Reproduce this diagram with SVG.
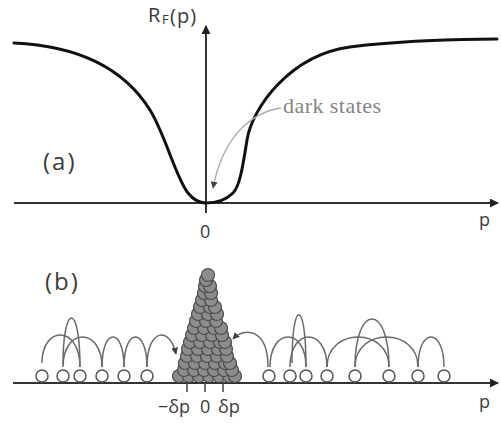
<svg xmlns="http://www.w3.org/2000/svg" width="501" height="423" viewBox="0 0 501 423">
<defs>
<style>
.axis{stroke:#333;stroke-width:2;fill:none}
.curve{stroke:#111;stroke-width:3;fill:none;stroke-linecap:round}
.arc{stroke:#6a6a6a;stroke-width:1.5;fill:none}
.open{fill:#fff;stroke:#555;stroke-width:1.5}
.atom{fill:#8c8c8c;stroke:#4a4a4a;stroke-width:1.2}
.tick{stroke:#444;stroke-width:1.5}
.lbl{font-family:"Open Sans","DejaVu Sans",sans-serif;fill:#3a3a3a}
</style>
<marker id="ah" viewBox="0 0 10 10" refX="9" refY="5" markerWidth="9" markerHeight="9" markerUnits="userSpaceOnUse" orient="auto">
<path d="M0,0 L10,5 L0,10 z" fill="#222"/>
</marker>
<marker id="ahs" viewBox="0 0 10 10" refX="9" refY="5" markerWidth="7" markerHeight="7" markerUnits="userSpaceOnUse" orient="auto">
<path d="M0,0 L10,5 L0,10 z" fill="#444"/>
</marker>
</defs>
<rect width="501" height="423" fill="#fff"/>

<g id="panel-a">
<g id="axes-a">
<line class="axis" x1="14" y1="203" x2="498" y2="203" marker-end="url(#ah)"/>
<line class="axis" x1="206" y1="213" x2="206" y2="26" marker-end="url(#ah)"/>
</g>
<path id="curve" class="curve" d="M14,43 C80,46 125,70 150,110 C165,134 176,178 188,193 C194,200.5 199,203 206,203 C216,203 226,200 233,193 C240,186 243,165 247,140 C252,108 290,55 350,47 C395,41 460,39 497,39"/>
<g id="dark-states">
<path d="M281,108 C255,112 224,132 213,188" fill="none" stroke="#aaa" stroke-width="1.3" marker-end="url(#ahs)"/>
<text x="283" y="113" font-family="'Liberation Serif',serif" font-size="22" fill="#858585" textLength="98">dark states</text>
</g>
<text class="lbl" x="148" y="22" font-size="20">R</text>
<text class="lbl" x="162" y="24" font-size="13">F</text>
<text class="lbl" x="170" y="23" font-size="20" letter-spacing="1">(p)</text>
<text class="lbl" x="43" y="170" font-size="24" letter-spacing="2">(a)</text>
<text class="lbl" x="200" y="238" font-size="18">0</text>
<text class="lbl" x="479" y="226" font-size="18">p</text>
</g>

<g id="panel-b">
<g id="axis-b">
<line class="axis" x1="13" y1="383" x2="498" y2="383" marker-end="url(#ah)"/>
<line class="tick" x1="187" y1="383" x2="187" y2="392"/>
<line class="tick" x1="205" y1="383" x2="205" y2="392"/>
<line class="tick" x1="223" y1="383" x2="223" y2="392"/>
</g>
<g id="connectors">
<path class="arc" d="M42,363 C42,325 80,325 80,367"/>
<path class="arc" d="M63,367 C63,327 102,327 102,367"/>
<path class="arc" d="M63,365 C63,302 80,302 80,367"/>
<path class="arc" d="M102,367 C102,327 124,327 124,367"/>
<path class="arc" d="M124,367 C124,327 147,327 147,367"/>
<path class="arc" d="M147,367 C147,328 170,326 176,354" marker-end="url(#ahs)"/>
<path class="arc" d="M268,367 C268,328 244,327 233,339" marker-end="url(#ahs)"/>
<path class="arc" d="M270,367 C270,327 306,327 306,367"/>
<path class="arc" d="M292,363 C292,298 306,298 306,367"/>
<path class="arc" d="M290,367 C290,327 327,327 327,367"/>
<path class="arc" d="M327,367 C327,327 389,327 389,367"/>
<path class="arc" d="M355,367 C355,327 418,327 418,367"/>
<path class="arc" d="M355,367 C355,303 389,303 389,367"/>
<path class="arc" d="M418,367 C418,327 444,327 444,367"/>
</g>
<g id="free-atoms">
<circle class="open" cx="42" cy="376" r="6"/>
<circle class="open" cx="63" cy="376" r="6"/>
<circle class="open" cx="80" cy="376" r="6"/>
<circle class="open" cx="102" cy="376" r="6"/>
<circle class="open" cx="124" cy="376" r="6"/>
<circle class="open" cx="147" cy="376" r="6"/>
<circle class="open" cx="269" cy="376" r="6"/>
<circle class="open" cx="290" cy="376" r="6"/>
<circle class="open" cx="306" cy="376" r="6"/>
<circle class="open" cx="327" cy="376" r="6"/>
<circle class="open" cx="355" cy="376" r="6"/>
<circle class="open" cx="389" cy="376" r="6"/>
<circle class="open" cx="418" cy="376" r="6"/>
<circle class="open" cx="444" cy="376" r="6"/>
</g>
<g id="dark-pile">
<circle class="atom" cx="179" cy="376" r="6.5"/><circle class="atom" cx="189" cy="376" r="6.5"/><circle class="atom" cx="199" cy="376" r="6.5"/><circle class="atom" cx="209" cy="376" r="6.5"/><circle class="atom" cx="219" cy="376" r="6.5"/><circle class="atom" cx="229" cy="376" r="6.5"/><circle class="atom" cx="235" cy="376" r="6.5"/>
<circle class="atom" cx="184" cy="370" r="6.5"/><circle class="atom" cx="194" cy="370" r="6.5"/><circle class="atom" cx="204" cy="370" r="6.5"/><circle class="atom" cx="214" cy="370" r="6.5"/><circle class="atom" cx="224" cy="370" r="6.5"/><circle class="atom" cx="232" cy="370" r="6.5"/>
<circle class="atom" cx="185" cy="363" r="6.5"/><circle class="atom" cx="195" cy="363" r="6.5"/><circle class="atom" cx="205" cy="363" r="6.5"/><circle class="atom" cx="215" cy="363" r="6.5"/><circle class="atom" cx="225" cy="363" r="6.5"/><circle class="atom" cx="230" cy="363" r="6.5"/>
<circle class="atom" cx="187" cy="356" r="6.5"/><circle class="atom" cx="197" cy="356" r="6.5"/><circle class="atom" cx="207" cy="356" r="6.5"/><circle class="atom" cx="217" cy="356" r="6.5"/><circle class="atom" cx="227" cy="356" r="6.5"/>
<circle class="atom" cx="188" cy="349" r="6.5"/><circle class="atom" cx="198" cy="349" r="6.5"/><circle class="atom" cx="208" cy="349" r="6.5"/><circle class="atom" cx="218" cy="349" r="6.5"/><circle class="atom" cx="226" cy="349" r="6.5"/>
<circle class="atom" cx="190" cy="342" r="6.5"/><circle class="atom" cx="200" cy="342" r="6.5"/><circle class="atom" cx="210" cy="342" r="6.5"/><circle class="atom" cx="220" cy="342" r="6.5"/><circle class="atom" cx="225" cy="342" r="6.5"/>
<circle class="atom" cx="192" cy="335" r="6.5"/><circle class="atom" cx="202" cy="335" r="6.5"/><circle class="atom" cx="212" cy="335" r="6.5"/><circle class="atom" cx="222" cy="335" r="6.5"/>
<circle class="atom" cx="194" cy="328" r="6.5"/><circle class="atom" cx="204" cy="328" r="6.5"/><circle class="atom" cx="214" cy="328" r="6.5"/><circle class="atom" cx="221" cy="328" r="6.5"/>
<circle class="atom" cx="196" cy="321" r="6.5"/><circle class="atom" cx="206" cy="321" r="6.5"/><circle class="atom" cx="216" cy="321" r="6.5"/>
<circle class="atom" cx="198" cy="314" r="6.5"/><circle class="atom" cx="208" cy="314" r="6.5"/><circle class="atom" cx="217" cy="314" r="6.5"/>
<circle class="atom" cx="200" cy="307" r="6.5"/><circle class="atom" cx="210" cy="307" r="6.5"/><circle class="atom" cx="215" cy="307" r="6.5"/>
<circle class="atom" cx="202" cy="300" r="6.5"/><circle class="atom" cx="211" cy="300" r="6.5"/>
<circle class="atom" cx="204" cy="293" r="6.5"/><circle class="atom" cx="211" cy="293" r="6.5"/>
<circle class="atom" cx="205" cy="286" r="6.5"/><circle class="atom" cx="210" cy="286" r="6.5"/>
<circle class="atom" cx="206" cy="280" r="6.5"/>
<circle class="atom" cx="208" cy="275" r="6.5"/>
</g>
<text class="lbl" x="45" y="290" font-size="24" letter-spacing="2">(b)</text>
<text class="lbl" x="158" y="413" font-size="18">−δp</text>
<text class="lbl" x="200" y="413" font-size="18">0</text>
<text class="lbl" x="218" y="413" font-size="18">δp</text>
<text class="lbl" x="479" y="408" font-size="18">p</text>
</g>
</svg>
